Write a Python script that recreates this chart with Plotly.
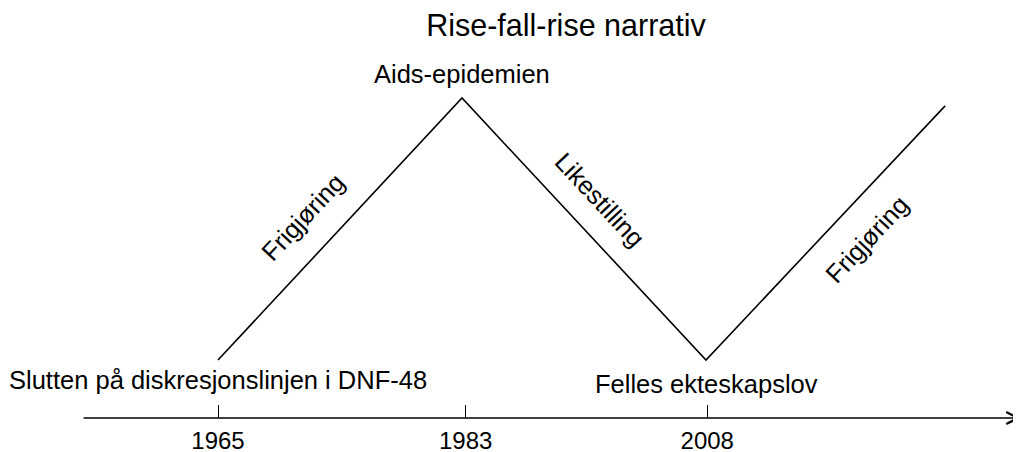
import plotly.graph_objects as go

# ---- data ----
tick_positions = [0, 1.015, 2.005]
tick_labels = ["1965", "1983", "2008"]
line_x = [0, 1, 2, 2.98]
line_y = [0, 1, 0, 0.97]
event_labels = ["Slutten på diskresjonslinjen i DNF-48", "Aids-epidemien", "Felles ekteskapslov"]
event_x = [0.0, 1.0, 2.0]
event_y = [-0.075, 1.09, -0.092]
phase_labels = ["Frigjøring", "Likestilling", "Frigjøring"]
phase_x = [0.348, 1.566, 2.66]
phase_y = [0.546, 0.611, 0.462]
phase_angle = [-47, 47, -47]

X_RANGE = [-0.8607, 3.3238]
Y_RANGE = [-0.2214, 1.1527]
FONT = "Liberation Sans, Arial, sans-serif"

fig = go.Figure()
fig.add_trace(go.Scatter(x=line_x, y=line_y, mode="lines",
                         line=dict(color="black", width=1.6),
                         hoverinfo="skip", showlegend=False))

for t, x, y in zip(event_labels, event_x, event_y):
    fig.add_annotation(x=x, y=y, text=t, showarrow=False, xanchor="center", yanchor="middle",
                       font=dict(size=25.5, color="black", family=FONT))

for t, x, y, a in zip(phase_labels, phase_x, phase_y, phase_angle):
    fig.add_annotation(x=x, y=y, text=t, showarrow=False, textangle=a,
                       xanchor="center", yanchor="middle",
                       font=dict(size=25.5, color="black", family=FONT))

# axis arrow
fig.add_annotation(x=3.29, y=Y_RANGE[0], ax=-0.557, ay=Y_RANGE[0],
                   xref="x", yref="y", axref="x", ayref="y",
                   showarrow=True, arrowhead=5, arrowwidth=1.3, arrowsize=1.8,
                   arrowcolor="black", text="")

fig.update_layout(
    width=1021, height=452,
    margin=dict(l=0, r=0, t=50, b=42),
    paper_bgcolor="white", plot_bgcolor="white",
    font=dict(family=FONT, color="black", size=25),
    title=dict(text="Rise-fall-rise narrativ", x=0.5465, xanchor="center",
               xref="paper", y=1 - 17 / 452, yanchor="middle", yref="container",
               font=dict(size=30.5, color="black", family=FONT)),
    xaxis=dict(range=X_RANGE, showgrid=False, zeroline=False, showline=False,
               tickmode="array", tickvals=tick_positions, ticktext=tick_labels,
               ticks="inside", ticklen=13, tickwidth=1.3, tickcolor="black",
               ticklabelstandoff=6,
               tickfont=dict(size=24, color="black", family=FONT)),
    yaxis=dict(range=Y_RANGE, visible=False),
    showlegend=False,
)

fig.write_html("out.html")
